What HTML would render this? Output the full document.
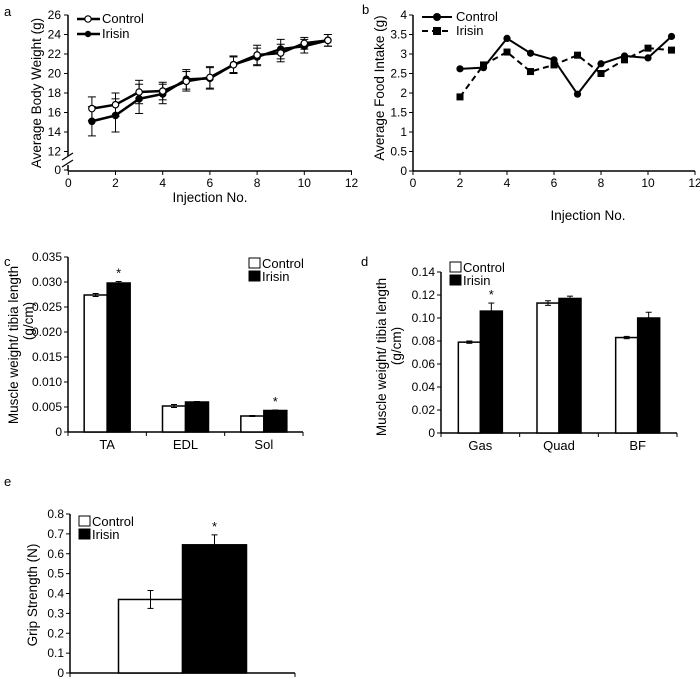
<!DOCTYPE html>
<html><head><meta charset="utf-8"><style>
body{margin:0;background:#fff}
svg{display:block;font-family:"Liberation Sans",Arial,sans-serif}
text{fill:#000}
</style></head><body>
<svg id="s" width="700" height="679" viewBox="0 0 700 679"></svg>
<script>
// Panel a data
const aX=[1,2,3,4,5,6,7,8,9,10,11];
const aCtrl=[16.4,16.8,18.1,18.2,19.2,19.6,20.9,21.9,22.1,23.1,23.4];
const aCtrlErr=[1.2,1.2,1.2,0.9,1.0,1.1,0.9,1.0,0.9,0.6,0.6];
const aIri=[15.1,15.7,17.4,17.9,19.4,19.5,20.9,21.7,22.5,22.8,23.4];
const aIriErr=[1.5,1.7,1.5,1.0,1.0,1.1,0.8,0.9,1.0,0.7,0.6];
const aYTicks=[12,14,16,18,20,22,24,26];
const xTicks=[0,2,4,6,8,10,12];
// Panel b data
const bX=[2,3,4,5,6,7,8,9,10,11];
const bCtrl=[2.62,2.65,3.4,3.02,2.85,1.97,2.75,2.95,2.9,3.45];
const bIri=[1.9,2.72,3.05,2.55,2.72,2.97,2.5,2.85,3.15,3.1];
const bYTicks=[0,0.5,1,1.5,2,2.5,3,3.5,4];
const bYLabels=["0","0.5","1","1.5","2","2.5","3","3.5","4"];
// Panel c data
const cCats=["TA","EDL","Sol"];
const cCtrl=[0.0274,0.0052,0.0032];
const cCtrlErr=[0.0003,0.0003,0.0001];
const cIri=[0.0298,0.0060,0.0043];
const cIriErr=[0.0003,0.0001,0.0001];
const cSig=[true,false,true];
const cYTicks=[0,0.005,0.010,0.015,0.020,0.025,0.030,0.035];
const cYLabels=["0","0.005","0.010","0.015","0.020","0.025","0.030","0.035"];
// Panel d data
const dCats=["Gas","Quad","BF"];
const dCtrl=[0.079,0.113,0.083];
const dCtrlErr=[0.001,0.002,0.001];
const dIri=[0.106,0.117,0.100];
const dIriErr=[0.007,0.002,0.005];
const dSig=[true,false,false];
const dYTicks=[0,0.02,0.04,0.06,0.08,0.10,0.12,0.14];
const dYLabels=["0","0.02","0.04","0.06","0.08","0.10","0.12","0.14"];
// Panel e data
const eCats=[""];
const eCtrl=[0.37];
const eCtrlErr=[0.045];
const eIri=[0.645];
const eIriErr=[0.05];
const eSig=[true];
const eYTicks=[0,0.1,0.2,0.3,0.4,0.5,0.6,0.7,0.8];
const eYLabels=["0","0.1","0.2","0.3","0.4","0.5","0.6","0.7","0.8"];

const S=document.getElementById('s');
const NS='http://www.w3.org/2000/svg';
function mk(tag,attrs,parent,txt){const e=document.createElementNS(NS,tag);for(const k in attrs)e.setAttribute(k,attrs[k]);if(txt!==undefined)e.textContent=txt;(parent||S).appendChild(e);return e;}
function grp(name){const g=mk('g',{});


return g;}
function lin(g,x1,y1,x2,y2,w,dash){return mk('line',{x1,y1,x2,y2,stroke:'#000','stroke-width':w||1.5,'stroke-dasharray':dash||'none'},g);}
function txt(g,x,y,s,anchor,size,rot){const a={x,y,'font-size':size||12,'text-anchor':anchor||'middle'};if(rot)a.transform=`rotate(-90 ${x} ${y})`;return mk('text',a,g,s);}
function err(g,x,y1,y2,cap){lin(g,x,y1,x,y2,1);lin(g,x-cap,y1,x+cap,y1,1);lin(g,x-cap,y2,x+cap,y2,1);}

// Panel labels
[['a',4,16],['b',362,14],['c',4,266],['d',361,266],['e',4,486]].forEach(p=>{const t=txt(S,p[1],p[2],p[0],'start',13);

});

// ---- Panel a ----
(function(){
const g=grp('panel-a-body-weight-chart');
const X=v=>68.3+v*23.6;
const Y=v=>v>=12?151.5-(v-12)*9.75:170;
lin(g,68,15,68,156);lin(g,68,165,68,171);lin(g,68,171,352,171);
lin(g,62,160,73,153,1.2);lin(g,62,167,73,160,1.2);
aYTicks.forEach(v=>{lin(g,64,Y(v),68,Y(v),1);const t=txt(g,61,Y(v)+4,String(v),'end',12);});
lin(g,64,170,68,170,1);txt(g,61,174,'0','end',12);
xTicks.forEach(v=>{lin(g,X(v),171,X(v),175,1);txt(g,X(v),187,String(v),'middle',12);});
txt(g,210,202,'Injection No.','middle',13.5);
txt(g,41,93,'Average Body Weight (g)','middle',13.5,true);
function series(vals,errs,filled,name){
 const sg=grp(name);g.appendChild(sg);
 vals.forEach((v,i)=>err(sg,X(aX[i]),Y(v-errs[i]),Y(v+errs[i]),4));
 mk('polyline',{points:vals.map((v,i)=>X(aX[i])+','+Y(v)).join(' '),fill:'none',stroke:'#000','stroke-width':2.5},sg);
 vals.forEach((v,i)=>{const c=mk('circle',{cx:X(aX[i]),cy:Y(v),r:3.2,fill:filled?'#000':'#fff',stroke:'#000','stroke-width':1.2},sg);});
}
series(aIri,aIriErr,true,'irisin-series');
series(aCtrl,aCtrlErr,false,'control-series');
const lg=grp('legend-a');g.appendChild(lg);
lin(lg,77,19,100,19,2.5);mk('circle',{cx:88,cy:19,r:3.2,fill:'#fff',stroke:'#000','stroke-width':1.2},lg);txt(lg,102,23,'Control','start',13);
lin(lg,77,34,100,34,2.5);mk('circle',{cx:88,cy:34,r:3.2,fill:'#000'},lg);txt(lg,102,38,'Irisin','start',13);
})();

// ---- Panel b ----
(function(){
const g=grp('panel-b-food-intake-chart');
const X=v=>413+v*23.5;
const Y=v=>171-v*39;
lin(g,413,15,413,171);lin(g,413,171,695,171);
bYTicks.forEach((v,i)=>{lin(g,409,Y(v),413,Y(v),1);txt(g,407,Y(v)+4,bYLabels[i],'end',12);});
xTicks.forEach(v=>{lin(g,X(v),171,X(v),175,1);txt(g,X(v),187,String(v),'middle',12);});
txt(g,588,220,'Injection No.','middle',13.5);
txt(g,384,88,'Average Food Intake (g)','middle',13.5,true);
const ig=grp('irisin-series');g.appendChild(ig);
mk('polyline',{points:bIri.map((v,i)=>X(bX[i])+','+Y(v)).join(' '),fill:'none',stroke:'#000','stroke-width':2,'stroke-dasharray':'6,4'},ig);
bIri.forEach((v,i)=>mk('rect',{x:X(bX[i])-3.5,y:Y(v)-3.5,width:7,height:7,fill:'#000'},ig));
const cg=grp('control-series');g.appendChild(cg);
mk('polyline',{points:bCtrl.map((v,i)=>X(bX[i])+','+Y(v)).join(' '),fill:'none',stroke:'#000','stroke-width':2},cg);
bCtrl.forEach((v,i)=>mk('circle',{cx:X(bX[i]),cy:Y(v),r:3.6,fill:'#000'},cg));
const lg=grp('legend-b');g.appendChild(lg);
lin(lg,422,17,452,17,2);mk('circle',{cx:437,cy:17,r:4,fill:'#000'},lg);txt(lg,456,21,'Control','start',13);
lin(lg,422,31,452,31,2,'6,4');mk('rect',{x:433,y:27,width:8,height:8,fill:'#000'},lg);txt(lg,456,35,'Irisin','start',13);
})();

// ---- bar chart helper ----
function barChart(o){
 const g=grp(o.name);
 const Y=v=>o.y0-(v/o.ymax)*(o.y0-o.ytop);
 lin(g,o.x0,o.ytop,o.x0,o.y0);lin(g,o.x0,o.y0,o.x1,o.y0);
 o.ticks.forEach((v,i)=>{lin(g,o.x0-4,Y(v),o.x0,Y(v),1);txt(g,o.x0-6,Y(v)+4,o.labels[i],'end',12);});
 const n=o.cats.length;const step=(o.x1-o.x0)/n;
 for(let k=0;k<=n;k++)lin(g,o.x0+k*step,o.y0,o.x0+k*step,o.y0+4,1);
 o.cats.forEach((c,i)=>{
  const cx=o.x0+step*(i+0.5)+(o.shift||0);
  const b1=mk('rect',{x:cx-o.bw,y:Y(o.ctrl[i]),width:o.bw,height:o.y0-Y(o.ctrl[i]),fill:'#fff',stroke:'#000','stroke-width':1.5},g);
  
  
  const b2=mk('rect',{x:cx,y:Y(o.iri[i]),width:o.bw,height:o.y0-Y(o.iri[i]),fill:'#000',stroke:'#000','stroke-width':1.5},g);
  
  
  err(g,cx-o.bw/2,Y(o.ctrl[i]-o.ce[i]),Y(o.ctrl[i]+o.ce[i]),3);
  lin(g,cx+o.bw/2,Y(o.iri[i]),cx+o.bw/2,Y(o.iri[i]+o.ie[i]),1);lin(g,cx+o.bw/2-3,Y(o.iri[i]+o.ie[i]),cx+o.bw/2+3,Y(o.iri[i]+o.ie[i]),1);
  if(o.sig[i])txt(g,cx+o.bw/2,Y(o.iri[i]+o.ie[i])-4,'*','middle',13);
  if(c)txt(g,cx,o.y0+17,c,'middle',13);
 });
 const L=o.legend;
 mk('rect',{x:L[0],y:L[1],width:11,height:10,fill:'#fff',stroke:'#000','stroke-width':1},g);txt(g,L[0]+13,L[1]+10,'Control','start',13);
 mk('rect',{x:L[0],y:L[1]+13,width:11,height:10,fill:'#000',stroke:'#000','stroke-width':1},g);txt(g,L[0]+13,L[1]+23,'Irisin','start',13);
 o.title.forEach((t,i)=>txt(g,o.tx+i*15,o.ty[i],t,'middle',13.5,true));
}
barChart({name:'panel-c-muscle-weight-chart',cats:cCats,ctrl:cCtrl,ce:cCtrlErr,iri:cIri,ie:cIriErr,sig:cSig,ticks:cYTicks,labels:cYLabels,ymax:0.035,x0:68,x1:303,y0:432,ytop:257,bw:23,legend:[249,258],title:['Muscle weight/ tibia length','(g/cm)'],tx:18,ty:[345,321]});
barChart({name:'panel-d-muscle-weight-chart',cats:dCats,ctrl:dCtrl,ce:dCtrlErr,iri:dIri,ie:dIriErr,sig:dSig,ticks:dYTicks,labels:dYLabels,ymax:0.14,x0:441,x1:677,y0:433,ytop:272,bw:22,legend:[450,262],title:['Muscle weight/ tibia length','(g/cm)'],tx:386,ty:[357,346]});
barChart({name:'panel-e-grip-strength-chart',cats:eCats,ctrl:eCtrl,ce:eCtrlErr,iri:eIri,ie:eIriErr,sig:eSig,ticks:eYTicks,labels:eYLabels,ymax:0.8,x0:70,x1:295,y0:673,ytop:514,bw:64,shift:0,legend:[79,516],title:['Grip Strength (N)'],tx:37,ty:[595]});
</script>
</body></html>
